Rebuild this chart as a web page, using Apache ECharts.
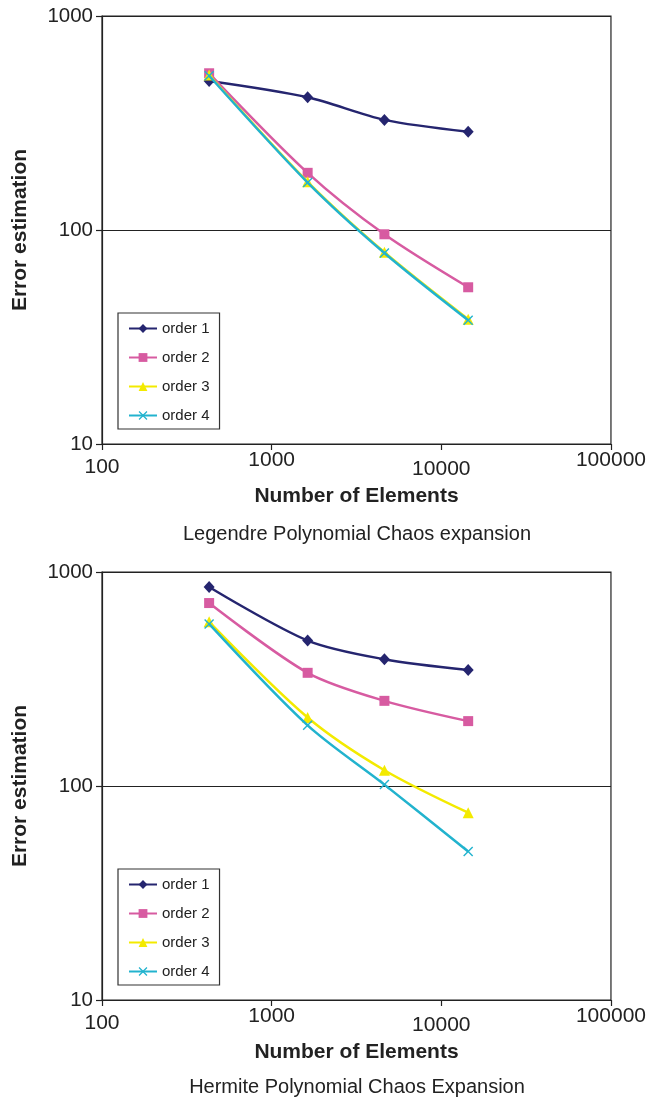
<!DOCTYPE html>
<html><head><meta charset="utf-8">
<script src="https://cdn.jsdelivr.net/npm/echarts@6/dist/echarts.min.js"></script>
<style>
html,body{margin:0;padding:0;background:#fff;width:649px;height:1101px;overflow:hidden}
#c1{position:absolute;left:0;top:0;width:649px;height:556px}
#c2{position:absolute;left:0;top:556px;width:649px;height:545px}
</style></head><body><div id="c1"></div><div id="c2"></div>
<script>
// ---- data ----
const elements = [428, 1630, 4620, 14400];
const seriesNames = ['order 1', 'order 2', 'order 3', 'order 4'];
const legendreOrder1 = [497, 417, 327, 288];
const legendreOrder2 = [540, 185, 95.5, 54];
const legendreOrder3 = [530, 168, 78.7, 38.3];
const legendreOrder4 = [526, 166.7, 78.1, 37.9];
const hermiteOrder1 = [851, 478, 391, 348];
const hermiteOrder2 = [716, 338, 250, 201];
const hermiteOrder3 = [585, 209, 118.5, 75];
const hermiteOrder4 = [572, 192, 101.5, 49.4];
const xTickLabels = ['100', '1000', '10000', '100000'];
const yTickLabels = ['10', '100', '1000'];
const xAxisTitle = 'Number of Elements';
const yAxisTitle = 'Error estimation';
const chartTitles = ['Legendre Polynomial Chaos expansion', 'Hermite Polynomial Chaos Expansion'];

// ---- styles ----
const FONT = "'Liberation Sans', Arial, Helvetica, sans-serif";
const colors = ['#25256F', '#D75BA1', '#F3EA00', '#22B3CE'];
const symbols = ['diamond', 'rect', 'triangle', 'path://M0,1L1,0L5,4L9,0L10,1L6,5L10,9L9,10L5,6L1,10L0,9L4,5Z'];
const symbolSizes = [[11, 12], 10, 11, 10];
const xLabelDrop = [7, 0, 9, 0]; // slight vertical stagger of the x tick labels, as in the original
const AX = '#222';

const xRich = {};
xTickLabels.forEach((t, i) => {
  xRich['l' + i] = { fontFamily: FONT, fontSize: 21, color: '#222', padding: [xLabelDrop[i], 0, 0, 0] };
});

function buildOption(seriesData, title, titleTop) {
  return {
    animation: false,
    backgroundColor: '#fff',
    title: {
      text: title, left: 357, top: titleTop, textAlign: 'center', padding: 0,
      textStyle: { fontFamily: FONT, fontSize: 20, fontWeight: 'normal', color: '#222' }
    },
    grid: { left: 102, top: 16, width: 510, height: 428, show: true, borderColor: AX, borderWidth: 1.2, backgroundColor: 'transparent' },
    legend: {
      orient: 'vertical', left: 118, top: 313, itemWidth: 28, itemHeight: 11, itemGap: 14,
      padding: [8, 10, 6, 10], borderColor: '#333', borderWidth: 1.2, backgroundColor: '#fff',
      textStyle: { fontFamily: FONT, fontSize: 15, color: '#222', lineHeight: 15 },
      data: seriesNames, selectedMode: false
    },
    xAxis: {
      type: 'log', logBase: 10, min: 100, max: 100000,
      name: xAxisTitle, nameLocation: 'middle', nameGap: 42, nameMoveOverlap: false,
      nameTextStyle: { fontFamily: FONT, fontSize: 21, fontWeight: 'bold', color: '#222' },
      axisLine: { show: true, lineStyle: { color: AX, width: 1.2 } },
      axisTick: { show: true, inside: false, length: 6, lineStyle: { color: AX, width: 1.2 } },
      minorTick: { show: false },
      splitLine: { show: false },
      axisLabel: {
        margin: 6, fontFamily: FONT, fontSize: 21, color: '#222', rich: xRich,
        formatter: v => {
          const i = xTickLabels.findIndex(t => Math.abs(+t - v) < 1e-6 * v);
          return i < 0 ? '' : '{l' + i + '|' + xTickLabels[i] + '}';
        }
      }
    },
    yAxis: {
      type: 'log', logBase: 10, min: 10, max: 1000,
      name: yAxisTitle, nameLocation: 'middle', nameGap: 71, nameRotate: 90, nameMoveOverlap: false,
      nameTextStyle: { fontFamily: FONT, fontSize: 21, fontWeight: 'bold', color: '#222' },
      axisLine: { show: true, lineStyle: { color: AX, width: 1.2 } },
      axisTick: { show: true, inside: false, length: 6, lineStyle: { color: AX, width: 1.2 } },
      minorTick: { show: false },
      splitLine: { show: true, lineStyle: { color: AX, width: 1.2 } },
      axisLabel: {
        margin: 9, fontFamily: FONT, fontSize: 20.5, color: '#222',
        formatter: v => yTickLabels.find(t => Math.abs(+t - v) < 1e-6 * v) || ''
      }
    },
    series: seriesData.map((vals, i) => ({
      type: 'line', name: seriesNames[i],
      data: elements.map((x, j) => [x, vals[j]]),
      smooth: 0.3,
      symbol: symbols[i], symbolSize: symbolSizes[i], showSymbol: true,
      lineStyle: { width: 2.5, color: colors[i] },
      itemStyle: { color: colors[i] },
      emphasis: { disabled: true },
      z: 2 + i
    }))
  };
}

const c1 = echarts.init(document.getElementById('c1'), null, { renderer: 'canvas' });
c1.setOption(buildOption([legendreOrder1, legendreOrder2, legendreOrder3, legendreOrder4], chartTitles[0], 524));
const c2 = echarts.init(document.getElementById('c2'), null, { renderer: 'canvas' });
c2.setOption(buildOption([hermiteOrder1, hermiteOrder2, hermiteOrder3, hermiteOrder4], chartTitles[1], 521));
</script>
</body></html>
